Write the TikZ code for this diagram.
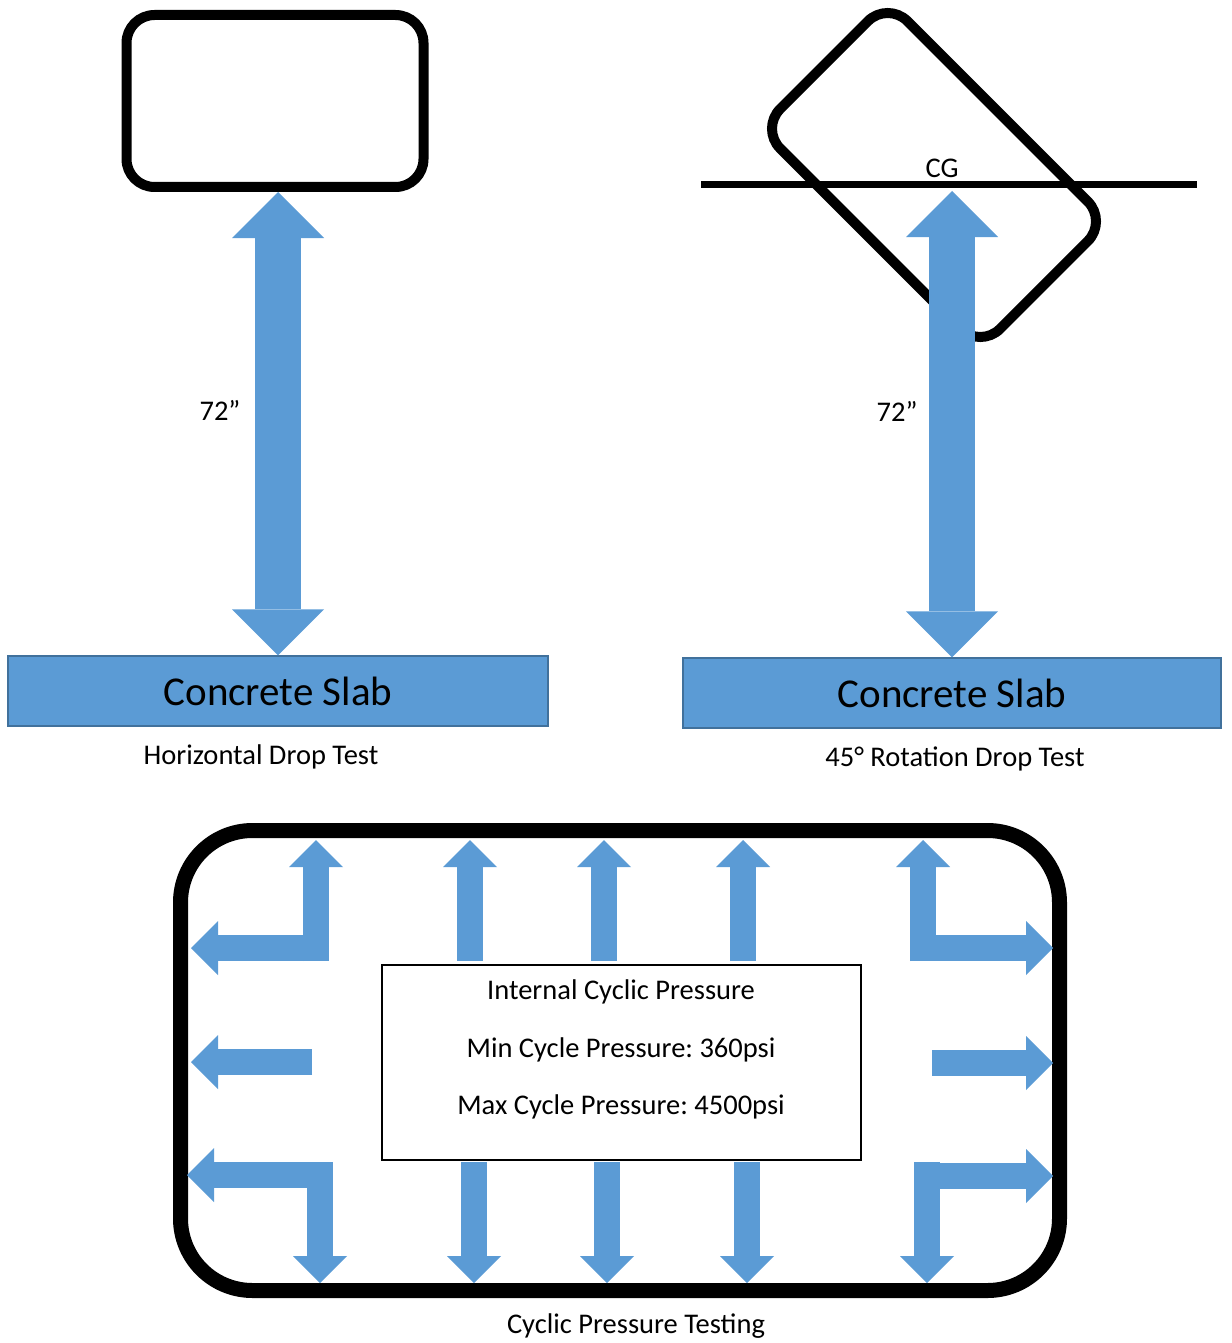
\documentclass[tikz,border=0pt]{standalone}
\usepackage{fontspec}
\setmainfont{Carlito}
\frenchspacing
\usetikzlibrary{arrows.meta,positioning}
\definecolor{slabblue}{HTML}{5B9BD5}
\definecolor{slabedge}{HTML}{41719C}
\tikzset{
  body/.style={draw, line width=10pt, rounded corners=28pt, minimum width=297pt, minimum height=172pt, inner sep=0pt},
  slab/.style={draw=slabedge, fill=slabblue, line width=1.2pt, minimum height=70pt, inner sep=0pt, text=black, font=\fontsize{41}{49}\selectfont},
  txt/.style={font=\fontsize{28.5}{34}\selectfont},
  drop/.style={slabblue, line width=46pt, arrows={Triangle[length=46pt,width=92pt,line width=0pt]-Triangle[length=46pt,width=92pt,line width=0pt]}},
  push/.style={slabblue, line width=26pt, arrows={-Triangle[length=27pt,width=54pt,line width=0pt]}},
}
\begin{document}
\begin{tikzpicture}[x=1pt,y=-1pt]
  \useasboundingbox (0,0) rectangle (1231,1343);

  % Caduta orizzontale
  \node[body] (box1) at (275,101) {};
  \node[slab, minimum width=540pt] (slab1) at (278,691) {Concrete Slab};
  \node[txt] (cap1) at (261,757) {Horizontal Drop Test};
  \draw[drop] (slab1.north |- box1.south) -- (slab1.north);
  \node[txt] (h1) at (220,410) {72”};

  % Caduta ruotata
  \node[body, minimum width=311pt, minimum height=180pt, rotate=-45] (box2) at (934,175) {};
  \coordinate (cgL) at (701,184.5);
  \coordinate (cgR) at (1197,184.5);
  \draw[line width=6.5pt] (cgL) -- (cgR);
  \node[slab, minimum width=538pt] (slab2) at (952,693) {Concrete Slab};
  \node[txt] (cap2) at (955,759) {45° Rotation Drop Test};
  \coordinate (cg) at (952,191);
  \draw[drop] (cg) -- (slab2.north);
  \node[txt] (cgt) at (942,168) {CG};
  \node[txt] (h2) at (897,411) {72”};

  % Pressione ciclica
  \node[draw, line width=15pt, rounded corners=72pt, minimum width=879pt, minimum height=460pt, inner sep=0pt] (vessel) at (620,1060.5) {};
  \node[draw, line width=1.5pt, minimum width=479pt, minimum height=195pt, inner sep=0pt] (info) at (621.5,1062.5) {};
  \node[txt] (l1) at (621,992) {Internal Cyclic Pressure};
  \node[txt] (l2) at (621,1050) {Min Cycle Pressure: 360psi};
  \node[txt] (l3) at (621,1107) {Max Cycle Pressure: 4500psi};
  \node[txt] (cap3) at (636,1326) {Cyclic Pressure Testing};

  % Frecce
  \foreach \x in {316,470,604,743,923}
    \draw[push] (\x,961) -- (\x,840);
  \foreach \x in {320,474,607,747,927}
    \draw[push] (\x,1162) -- (\x,1283);
  \foreach \y/\xa/\xb in {948/312/191,1062/312/191,1175/307/187}
    \draw[push] (\xa,\y) -- (\xb,\y);
  \foreach \y in {948,1063,1176}
    \draw[push] (932,\y) -- (1053,\y);
\end{tikzpicture}
\end{document}
